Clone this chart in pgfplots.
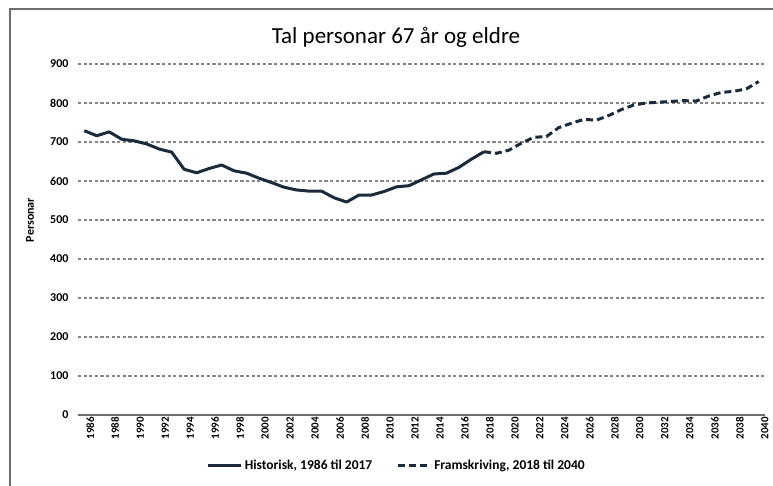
\documentclass[border=0pt]{standalone}
\usepackage{fontspec}
\setmainfont{Carlito}
\usepackage{pgfplots}
\pgfplotsset{compat=1.18}
\definecolor{navy}{HTML}{1B2B3C}
\definecolor{gridc}{HTML}{858585}
\definecolor{framec}{HTML}{6E6E6E}
\begin{document}
\begin{tikzpicture}[x=1pt,y=1pt]
\useasboundingbox (0,0) rectangle (773,486);
\draw[framec, line width=1.5pt] (10,0) -- (10,477) -- (773,477);
\node[font=\fontsize{23}{27}\selectfont] at (396,449) {Tal personar 67 år og eldre};
\node[rotate=90, font=\bfseries\fontsize{12}{14}\selectfont] at (30,266) {Personar};
\begin{axis}[
  at={(78pt,71pt)}, anchor=south west, scale only axis,
  width=687pt, height=351pt,
  xmin=1985.5, xmax=2040.5, ymin=0, ymax=900,
  axis x line*=bottom, axis y line*=left,
  y axis line style={draw=none},
  x axis line style={draw=framec, line width=1.5pt},
  major tick length=0pt,
  xtick={1986,1988,...,2040},
  ytick={0,100,...,900},
  ymajorgrids,
  grid style={gridc, line width=1.4pt, dash pattern=on 3.2pt off 2.4pt},
  /pgf/number format/1000 sep={},
  /pgf/number format/assume math mode=true,
  xticklabel style={rotate=90, anchor=east, font=\bfseries\fontsize{11}{12}\selectfont, inner sep=2pt, yshift=-6pt},
  yticklabel style={font=\bfseries\fontsize{12}{14}\selectfont, xshift=-6pt},
  legend columns=2,
  legend style={at={(0.464,-0.145)}, anchor=center, draw=none, fill=none,
    font=\bfseries\fontsize{13.5}{15}\selectfont,
    /tikz/every even column/.append style={column sep=22pt}},
  legend image code/.code={\draw[#1] (0pt,0pt) -- (33pt,0pt);},
]
\addplot[navy, line width=3pt, line join=round] coordinates {
(1986,729) (1987,716) (1988,726) (1989,707) (1990,703) (1991,695) (1992,682)
(1993,674) (1994,630) (1995,621) (1996,632) (1997,641) (1998,626) (1999,620)
(2000,607) (2001,596) (2002,584) (2003,577) (2004,574) (2005,574) (2006,557)
(2007,546) (2008,564) (2009,564) (2010,573) (2011,585) (2012,588) (2013,603)
(2014,618) (2015,620) (2016,635) (2017,656) (2018,675)
};
\addlegendentry{Historisk, 1986 til 2017}
\addplot[navy, line width=3pt, dash pattern=on 7pt off 4pt] coordinates {
(2018,675) (2019,671) (2020,679) (2021,697) (2022,712) (2023,714) (2024,737)
(2025,748) (2026,758) (2027,756) (2028,768) (2029,783) (2030,795) (2031,800)
(2032,802) (2033,804) (2034,806) (2035,805) (2036,818) (2037,827) (2038,830)
(2039,836) (2040,855)
};
\addlegendentry{Framskriving, 2018 til 2040}
\end{axis}
\end{tikzpicture}
\end{document}
